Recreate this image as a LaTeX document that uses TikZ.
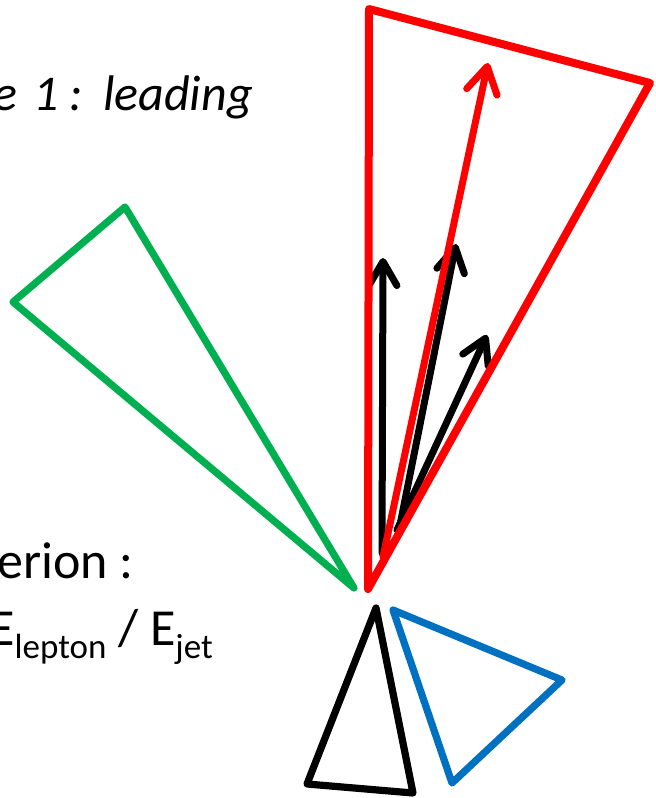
\documentclass[tikz,border=0pt]{standalone}
\usepackage{fontspec}
\setmainfont{Carlito}
\usetikzlibrary{arrows.meta}
\definecolor{myred}{RGB}{255,0,0}
\definecolor{mygreen}{RGB}{0,176,80}
\definecolor{myblue}{RGB}{0,112,192}
\tikzset{
  cone/.style={line width=7.2pt, line join=round, line cap=round},
  vec/.style={line width=7pt, line cap=round,
    -{Straight Barb[length=24pt,width=28pt,round]}},
  lbl/.style={inner sep=0pt, font=\fontsize{52}{60}\selectfont}
}
\begin{document}
\begin{tikzpicture}[x=1pt,y=-1pt]
\useasboundingbox (0,0) rectangle (656,798);
% green cone
\coordinate (g1) at (354,588);
\coordinate (g2) at (125,207);
\coordinate (g3) at (13,302);
\draw[cone, mygreen] (g1) -- (g2) -- (g3) -- cycle;
% black arrows
\coordinate (b1s) at (382,553); \coordinate (b1e) at (383,258);
\coordinate (b2s) at (399,530); \coordinate (b2e) at (456,244);
\coordinate (b3s) at (397,530); \coordinate (b3e) at (487,335);
\draw[vec, black] (b1s) -- (b1e);
\draw[vec, black] (b2s) -- (b2e);
\draw[vec, black] (b3s) -- (b3e);
% red cone
\coordinate (r1) at (368,589);
\coordinate (r2) at (369,9);
\coordinate (r3) at (650,83);
\draw[cone, myred, line width=8pt] (r1) -- (r2) -- (r3) -- cycle;
% red arrow
\coordinate (ras) at (383,557); \coordinate (rae) at (488,63);
\draw[vec, myred, -{Straight Barb[length=26pt,width=31pt,round]}] (ras) -- (rae);
% black cone
\coordinate (k1) at (376,608);
\coordinate (k2) at (307,784);
\coordinate (k3) at (413,793);
\draw[cone, black] (k1) -- (k2) -- (k3) -- cycle;
% blue cone
\coordinate (u1) at (393,610);
\coordinate (u2) at (562,680);
\coordinate (u3) at (452,783);
\draw[cone, myblue] (u1) -- (u2) -- (u3) -- cycle;
% texts
\node[lbl, anchor=base east, font=\fontsize{50}{60}\selectfont\itshape] (t1) at (253,110) {e\hspace{4pt} 1 :\hspace{5pt} leading};
\node[lbl, anchor=base west] (t2) at (-3,578) {erion :};
\node[lbl, anchor=base west] (t3) at (-11,645) {E\raisebox{-13pt}{\fontsize{35}{40}\selectfont lepton} / E\raisebox{-13pt}{\fontsize{35}{40}\selectfont jet}};
\end{tikzpicture}
\end{document}
